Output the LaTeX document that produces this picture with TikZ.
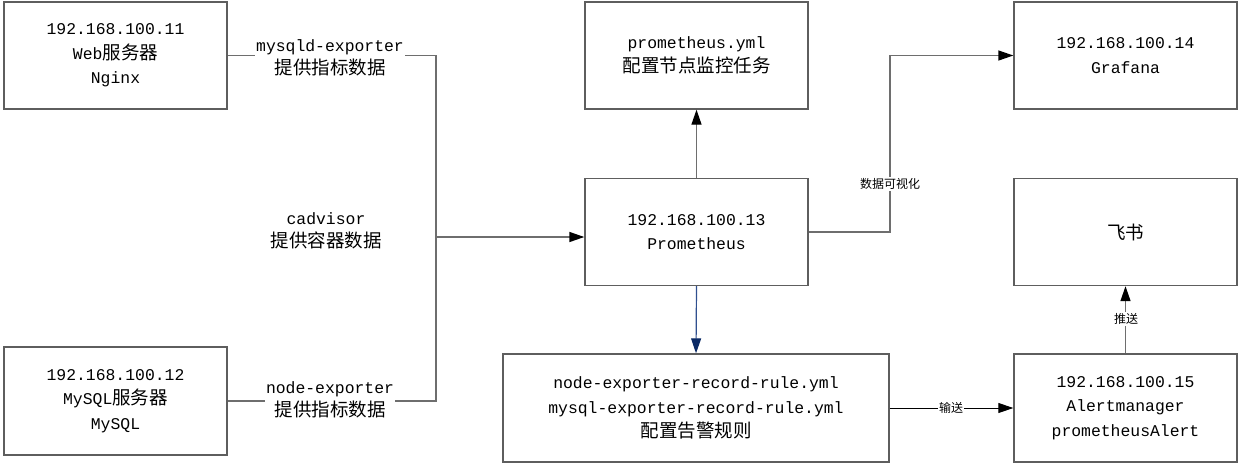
\documentclass[tikz,border=0pt]{standalone}
\usepackage{fontspec}
\setmainfont{Liberation Mono}
\newfontfamily\cjk{Noto Sans CJK SC}
\usetikzlibrary{arrows.meta}
\definecolor{boxgray}{HTML}{5E5E5E}
\definecolor{linegray}{HTML}{6E6E6E}
\definecolor{navyline}{HTML}{2F4F8F}
\definecolor{navyhead}{HTML}{0B2A66}
\newcommand{\zhtxt}[1]{{\cjk\fontsize{18.5}{24.5}\selectfont #1}}
\newcommand{\zhsmall}[1]{{\cjk\fontsize{12}{14}\selectfont #1}}
\tikzset{
  box/.style={draw=boxgray, line width=1.4pt, minimum width=223pt, minimum height=107pt,
    inner sep=0pt, align=center, font=\fontsize{16.4}{24.5}\selectfont},
  conn/.style={draw=linegray, line width=1.4pt},
  tip/.style={-{Triangle[length=15pt,width=10pt,color=black]}},
  lbl/.style={fill=white, inner sep=1pt, align=center, font=\fontsize{16.4}{23.5}\selectfont},
  slbl/.style={fill=white, inner sep=1pt},
}
\begin{document}
\begin{tikzpicture}[x=1pt,y=-1pt]
\useasboundingbox (0,0) rectangle (1241,464);
% boxes
\node[box] (web) at (115.5,55.5) {192.168.100.11\\Web\zhtxt{服务器}\\Nginx};
\node[box, minimum height=108pt] (mysql) at (115.5,401) {192.168.100.12\\MySQL\zhtxt{服务器}\\MySQL};
\node[box] (yml) at (696.5,55.5) {prometheus.yml\\\zhtxt{配置节点监控任务}};
\node[box] (prom) at (696.5,232) {192.168.100.13\\Prometheus};
\node[box, minimum width=386pt, minimum height=108pt] (rules) at (696,408) {node-exporter-record-rule.yml\\mysql-exporter-record-rule.yml\\\zhtxt{配置告警规则}};
\node[box] (grafana) at (1125.5,55.5) {192.168.100.14\\Grafana};
\node[box] (feishu) at (1125.5,232) {\zhtxt{飞书}};
\node[box, minimum height=108pt] (alert) at (1125.5,408) {192.168.100.15\\Alertmanager\\prometheusAlert};
% junction coordinates
\coordinate (jx) at (436,0);
\coordinate (vx) at (890,150);
% left collector
\draw[conn] (web.east) -- (web.east -| jx) -- (mysql.east -| jx) -- (mysql.east);
\node[lbl] (l1) at (330,58) {mysqld-exporter\\\zhtxt{提供指标数据}};
\node[lbl] (l2) at (330,400) {node-exporter\\\zhtxt{提供指标数据}};
\node[lbl] (l3) at (326,231) {cadvisor\\\zhtxt{提供容器数据}};
\draw[conn, tip] ([yshift=-5pt]prom.west -| jx) -- ([yshift=-5pt]prom.west);
% prometheus connections
\draw[conn, tip] (prom.north) -- (yml.south);
\draw[draw=navyline, line width=1.2pt, -{Triangle[length=15pt,width=10pt,color=navyhead]}] (prom.south) -- (rules.north);
\draw[conn, tip] (prom.east) -| (vx) |- (grafana.west);
\node[slbl] (l4) at (890,184) {\zhsmall{数据可视化}};
\draw[draw=black, line width=1pt, tip] (rules.east) -- (alert.west);
\node[slbl] (l5) at (951,408) {\zhsmall{输送}};
\draw[conn, tip] (alert.north) -- (feishu.south);
\node[slbl] (l6) at (1126,319) {\zhsmall{推送}};
\end{tikzpicture}
\end{document}
